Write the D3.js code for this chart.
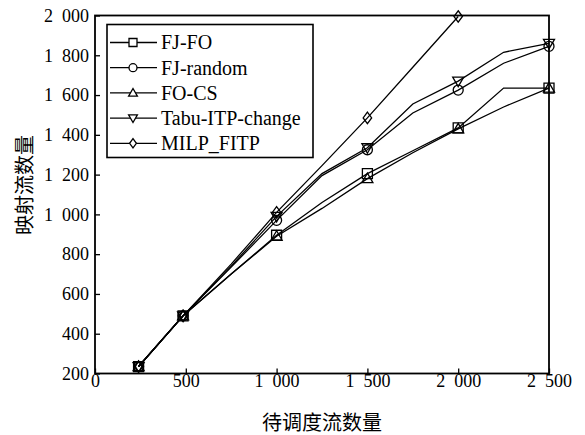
<!DOCTYPE html>
<html>
<head>
<meta charset="utf-8">
<script src="https://cdn.jsdelivr.net/npm/d3@7"></script>
<style>
  body { margin: 0; background: #fff; }
  text { font-family: "Liberation Serif", "Times New Roman", serif; fill: #000; }
  .cjk { font-family: "Noto Sans CJK SC", sans-serif; }
</style>
</head>
<body>
<svg id="chart" width="585" height="435"></svg>
<script>
// flows to schedule (x) and mapped flows (y)
const xValues = [240, 485, 750, 1000, 1250, 1500, 1750, 2000, 2250, 2500];
const markedX = [240, 485, 1000, 1500, 2000, 2500];

const fjFo      = [235, 490, 700, 895, 1060, 1205, 1320, 1435, 1635, 1635];
const fjRandom  = [235, 490, 735, 970, 1195, 1325, 1510, 1625, 1760, 1845];
const foCs      = [235, 490, 700, 890, 1030, 1180, 1310, 1430, 1540, 1635];
const tabuItp   = [235, 490, 740, 990, 1205, 1335, 1555, 1670, 1815, 1860];
const milpFitp  = [235, 490, 750, 1010, 1245, 1485, 1740, 1995];

const seriesNames = ['FJ-FO', 'FJ-random', 'FO-CS', 'Tabu-ITP-change', 'MILP_FITP'];
const seriesShapes = ['square', 'circle', 'triUp', 'triDown', 'diamond'];
const xTicks = [0, 500, 1000, 1500, 2000, 2500];
const yTicks = [200, 400, 600, 800, 1000, 1200, 1400, 1600, 1800, 2000];

const allSeries = [fjFo, fjRandom, foCs, tabuItp, milpFitp];

const margin = {left: 95, top: 15.5, right: 36, bottom: 61.5};
const width = 585 - margin.left - margin.right;
const height = 435 - margin.top - margin.bottom;

const svg = d3.select('#chart');
const g = svg.append('g').attr('transform', `translate(${margin.left},${margin.top})`);

const x = d3.scaleLinear().domain([0, 2500]).range([0, width]);
const y = d3.scaleLinear().domain([200, 2000]).range([height, 0]);

// thousands separated with an en space, like the original
const fmt = v => v >= 1000 ? d3.format(',')(v).replace(',', '\u2002') : String(v);

// axes with inward ticks
const xAxis = g.append('g')
    .attr('transform', `translate(0,${height})`)
    .call(d3.axisBottom(x).tickValues(xTicks).tickSizeInner(-5).tickSizeOuter(0).tickPadding(1).tickFormat(fmt));
const yAxis = g.append('g')
    .call(d3.axisLeft(y).tickValues(yTicks).tickSizeInner(-5).tickSizeOuter(0).tickPadding(6).tickFormat(fmt));

[xAxis, yAxis].forEach(a => {
    a.selectAll('text').style('font-size', '18px').attr('font-family', null);
    a.selectAll('line').attr('stroke', '#000').attr('stroke-width', 1.3);
    a.select('.domain').remove();
    a.attr('font-family', null);
});

// frame
g.append('rect')
    .attr('width', width).attr('height', height)
    .attr('fill', 'none').attr('stroke', '#000').attr('stroke-width', 1.8);

function markerPath(shape, s) {
    const h = s / 2;
    switch (shape) {
        case 'square': return `M${-h},${-h}H${h}V${h}H${-h}Z`;
        case 'circle': return `M${h},0A${h},${h} 0 1,1 ${-h},0A${h},${h} 0 1,1 ${h},0Z`;
        case 'triUp': return `M0,${-h * 1.1}L${h * 1.1},${h * 0.8}L${-h * 1.1},${h * 0.8}Z`;
        case 'triDown': return `M0,${h * 1.1}L${h * 1.1},${-h * 0.8}L${-h * 1.1},${-h * 0.8}Z`;
        case 'diamond': return `M0,${-h * 1.15}L${h * 0.85},0L0,${h * 1.15}L${-h * 0.85},0Z`;
    }
}

const line = d3.line().x(d => x(d.x)).y(d => y(d.y));

allSeries.forEach((vals, i) => {
    const pts = vals.map((v, j) => ({x: xValues[j], y: v}));
    g.append('path')
        .datum(pts)
        .attr('d', line)
        .attr('fill', 'none')
        .attr('stroke', '#000')
        .attr('stroke-width', 1.3);

    g.selectAll('.m' + i)
        .data(pts.filter(p => markedX.includes(p.x)))
        .enter()
        .append('path')
        .attr('class', 'm' + i)
        .attr('transform', d => `translate(${x(d.x)},${y(d.y)})`)
        .attr('d', markerPath(seriesShapes[i], 10))
        .attr('fill', 'none')
        .attr('stroke', '#000')
        .attr('stroke-width', 1.3);
});

// legend
const legend = svg.append('g').attr('transform', 'translate(107,24.5)');
legend.append('rect')
    .attr('width', 206).attr('height', 133)
    .attr('fill', '#fff').attr('stroke', '#000').attr('stroke-width', 1.6);

seriesNames.forEach((name, i) => {
    const row = legend.append('g').attr('transform', `translate(0,${18 + i * 25.2})`);
    row.append('line')
        .attr('x1', 3).attr('x2', 50).attr('y1', 0).attr('y2', 0)
        .attr('stroke', '#000').attr('stroke-width', 1.3);
    row.append('path')
        .attr('transform', 'translate(26,0)')
        .attr('d', markerPath(seriesShapes[i], 8))
        .attr('fill', '#fff')
        .attr('stroke', '#000')
        .attr('stroke-width', 1.3);
    row.append('text')
        .attr('x', 54).attr('y', 0).attr('dy', '0.34em')
        .style('font-size', '20px')
        .text(name);
});

// axis titles
svg.append('text')
    .attr('class', 'cjk')
    .attr('x', margin.left + width / 2).attr('y', 430)
    .attr('text-anchor', 'middle')
    .style('font-size', '20px')
    .text('待调度流数量');

svg.append('text')
    .attr('class', 'cjk')
    .attr('transform', 'translate(32,185) rotate(-90)')
    .attr('text-anchor', 'middle')
    .style('font-size', '20px')
    .text('映射流数量');
</script>
</body>
</html>
